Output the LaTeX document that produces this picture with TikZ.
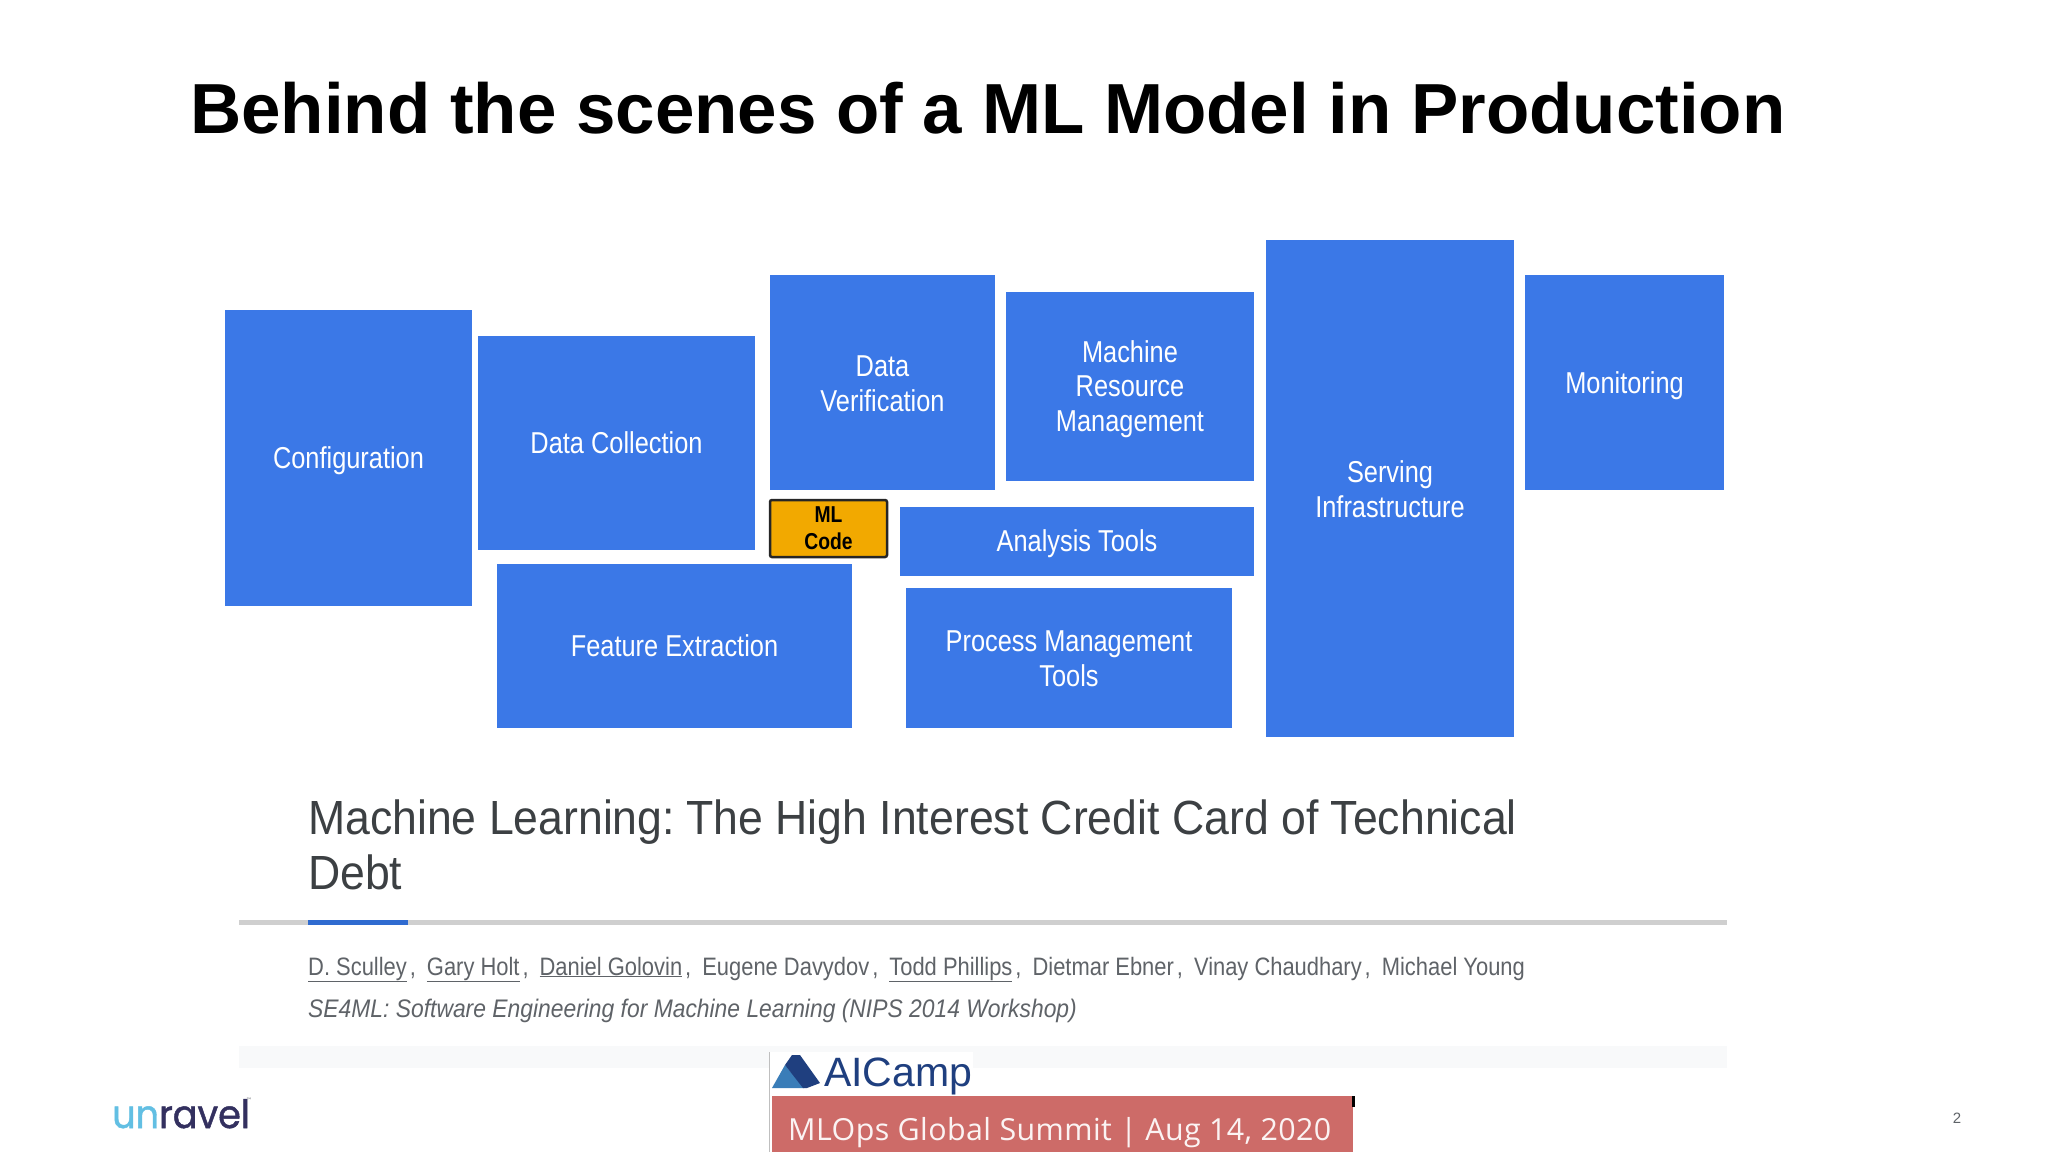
\documentclass[tikz,border=0pt]{standalone}
\usepackage{fontspec}
\setmainfont{Liberation Sans}
\newfontfamily\narrowf[FakeStretch=0.84]{Liberation Sans}
\newfontfamily\papf[FakeStretch=0.93]{Liberation Sans}
\newfontfamily\authf[FakeStretch=0.90]{Liberation Sans}
\newfontfamily\authn[FakeStretch=0.87]{Liberation Sans}
\newfontfamily\logof[FakeStretch=0.94,FakeBold=1.2]{Poppins}
\newfontfamily\tmf{DejaVu Sans}
\newfontfamily\summitf[LetterSpace=1.4]{Open Sans}
\definecolor{boxblue}{HTML}{3B78E7}
\definecolor{mlyellow}{HTML}{F2A900}
\definecolor{pinkbar}{HTML}{CD6B68}
\definecolor{papertext}{HTML}{3C4043}
\definecolor{authortext}{HTML}{5F6368}
\definecolor{rulegray}{HTML}{CFCFCF}
\definecolor{ruleblue}{HTML}{2F6BD0}
\definecolor{striped}{HTML}{F8F9FA}
\definecolor{campdark}{HTML}{1F3F7F}
\definecolor{camplight}{HTML}{3A7DB8}
\definecolor{ulight}{HTML}{62BFE3}
\definecolor{udark}{HTML}{33305F}
\tikzset{
  bluebox/.style={fill=boxblue,draw=none,inner sep=0pt},
  boxlabel/.style={text=white,align=center,inner sep=0pt,
    font=\narrowf\fontsize{30.2}{34.8}\selectfont},
  codebox/.style={fill=mlyellow,draw=black!85,line width=2.5pt,rounded corners=2pt,text=black,align=center,inner sep=0pt,
    font=\narrowf\bfseries\fontsize{23}{27}\selectfont},
  lefttext/.style={anchor=base west,inner sep=0pt}
}
% name, x1, y1, x2, y2, label drop, label
\newcommand{\bbox}[7]{\node[bluebox,minimum width=#4pt-#2pt,minimum height=#5pt-#3pt] (#1) at ({(#2+#4)/2},{(#3+#5)/2}) {};
  \node[boxlabel] (#1-label) at ([yshift=-#6pt]#1.center) {#7};}
\newcommand{\asep}{\hspace{3pt},\hspace{11pt}}
\begin{document}
\begin{tikzpicture}[x=1pt,y=-1pt]
\useasboundingbox (0,0) rectangle (2048,1152);
\fill[white] (0,0) rectangle (2048,1152);
\node[lefttext,font=\bfseries\fontsize{70.9}{80}\selectfont] (title) at (190,133) {Behind the scenes of a ML Model in Production};
\bbox{config}{225}{310}{472}{606}{2.6}{Configuration}
\bbox{collect}{478}{336}{755}{550}{0}{Data Collection}
\bbox{verify}{770}{275}{995}{490}{1.5}{Data\\Verification}
\bbox{resource}{1006}{292}{1254}{481}{2.6}{Machine\\Resource\\Management}
\bbox{serving}{1266}{240}{1514}{737}{0.5}{Serving\\Infrastructure}
\bbox{monitor}{1525}{275}{1724}{490}{3.5}{Monitoring}
\bbox{analysis}{900}{507}{1254}{576}{2.6}{Analysis Tools}
\bbox{feature}{497}{564}{852}{728}{0}{Feature Extraction}
\bbox{process}{906}{588}{1232}{728}{0.5}{Process Management\\Tools}
\node[codebox,minimum width=117pt,minimum height=57pt] (mlcode) at (828.5,528.5) {ML\\Code};
\node[lefttext,text=papertext,font=\papf\fontsize{47.95}{55}\selectfont] (paper1) at (308,834) {Machine Learning:\hspace{-5pt} The High Interest Credit Card of Technical};
\node[lefttext,text=papertext,font=\papf\fontsize{47.95}{55}\selectfont] (paper2) at (308,889) {Debt};
\fill[rulegray] (239,920) rectangle (1727,925);
\fill[ruleblue] (308,920) rectangle (408,925);
\node[lefttext,text=authortext,font=\authn\fontsize{25.2}{30}\selectfont] (authors) at (308,975) {\underline{D. Sculley}\asep\underline{Gary Holt}\asep\underline{Daniel Golovin}\asep Eugene Davydov\asep\underline{Todd Phillips}\asep Dietmar Ebner\asep Vinay Chaudhary\asep Michael Young};
\node[lefttext,text=authortext,font=\authf\itshape\fontsize{25.4}{30}\selectfont] (venue) at (308,1017) {SE4ML: Software Engineering for Machine Learning (NIPS 2014 Workshop)};
\fill[striped] (239,1046) rectangle (1727,1068);
\fill[white] (769,1052) rectangle (973,1096);
\fill[pinkbar] (772,1096) rectangle (1353,1152);
\draw[black!25,line width=1.5pt] (769.5,1052) -- (769.5,1152);
\fill[black] (1352,1096) rectangle (1355,1107);
\fill[camplight] (785,1065) -- (772,1088) -- (804,1088) -- cycle;
\fill[campdark] (792,1055) -- (800,1055) -- (820,1083) -- (807,1088) -- (803,1088) -- (785,1065) -- cycle;
\node[lefttext,text=campdark,font=\fontsize{41}{46}\selectfont] (aicamp) at (824,1086) {AICamp};
\node[lefttext,text=white!92!pinkbar,font=\summitf\fontsize{30.4}{36}\selectfont] (summit) at (788,1140) {MLOps Global Summit | Aug 14, 2020};
\node[lefttext,font=\logof\fontsize{39}{44}\selectfont] (logo) at (112,1128) {\textcolor{ulight}{un}\textcolor{udark}{ravel}};
\node[lefttext,text=authortext,font=\tmf\fontsize{6}{7}\selectfont] (tm) at (246,1102) {™};
\node[text=authortext,font=\fontsize{15}{18}\selectfont,inner sep=0pt] (pagenum) at (1957,1118) {2};
\end{tikzpicture}
\end{document}
